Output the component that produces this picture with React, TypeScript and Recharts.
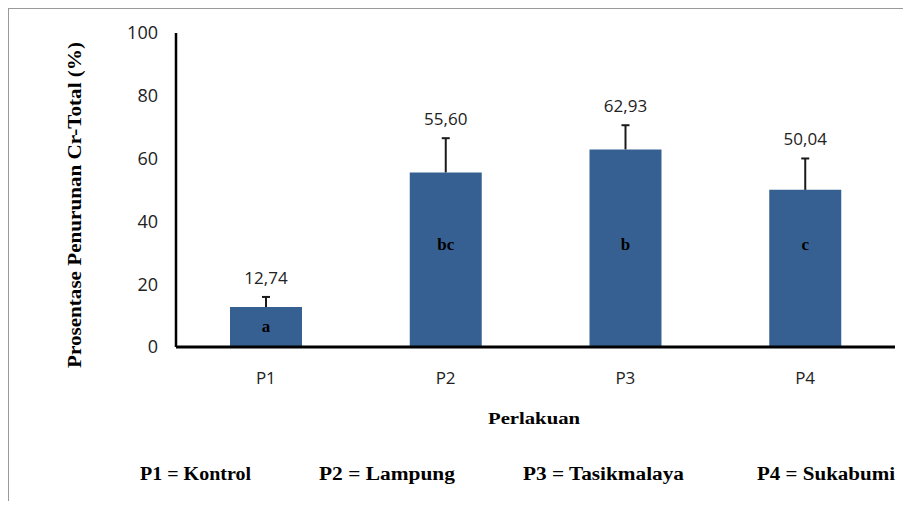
import React from "react";
import { BarChart, Bar, XAxis, YAxis, LabelList } from "recharts";

// perlakuan (treatment) names, means, standard error (upper side only) and notasi letters
const categories = ["P1", "P2", "P3", "P4"];
const reduction = [12.74, 55.6, 62.93, 50.04];
const errorUp = [3.2, 10.9, 7.7, 10.0];
const letters = ["a", "bc", "b", "c"];
const valueLabels = ["12,74", "55,60", "62,93", "50,04"];
const yTicks = [0, 20, 40, 60, 80, 100];
const legendItems = ["P1 = Kontrol", "P2 = Lampung", "P3 = Tasikmalaya", "P4 = Sukabumi"];

const data = categories.map((name, i) => ({
  name,
  value: reduction[i],
}));

const BAR_COLOR = "#376092";
const SANS = "'Open Sans', sans-serif";
const SERIF = "'Liberation Serif', 'Times New Roman', serif";

// error bar + value text on top of each bar
const TopLabel = (props: any) => {
  const { x, y, width, height, index } = props;
  const v = reduction[index];
  const pxPerUnit = height / v;
  const cx = x + width / 2;
  const errTop = y - errorUp[index] * pxPerUnit;
  return (
    <g>
      <line x1={cx} y1={y} x2={cx} y2={errTop} stroke="#1a1a1a" strokeWidth={2} />
      <line x1={cx - 4} y1={errTop} x2={cx + 4} y2={errTop} stroke="#1a1a1a" strokeWidth={2} />
      <text x={cx} y={errTop - 13} textAnchor="middle" fontFamily={SANS} fontSize={17} fill="#222">
        {valueLabels[index]}
      </text>
    </g>
  );
};

// notasi letter inside the bar: centred in short bars, otherwise at a fixed height
const LetterLabel = (props: any) => {
  const { x, y, width, height, index } = props;
  const v = reduction[index];
  const pxPerUnit = height / v;
  const bottom = y + height;
  const at = v < 25 ? v / 2 : 32.5;
  const cy = bottom - at * pxPerUnit;
  return (
    <text x={x + width / 2} y={cy + 5} textAnchor="middle" fontFamily={SERIF} fontWeight="bold" fontSize={17} fill="#000">
      {letters[index]}
    </text>
  );
};

export default function App() {
  return (
    <div style={{ position: "relative", width: 911, height: 509, margin: -8, background: "#fff", overflow: "hidden" }}>
      <div
        style={{
          position: "absolute",
          left: 7,
          top: 7,
          width: 904,
          height: 502,
          borderTop: "2px solid #9a9a9a",
          borderLeft: "2px solid #9a9a9a",
          boxSizing: "border-box",
        }}
      />
      <BarChart
        width={911}
        height={509}
        data={data}
        margin={{ top: 33, right: 16, bottom: 132, left: 1 }}
        style={{ position: "absolute", left: 0, top: 0 }}
      >
        <YAxis
          width={175}
          domain={[0, 100]}
          ticks={yTicks}
          interval={0}
          axisLine={{ stroke: "#000", strokeWidth: 2.5 }}
          tickLine={false}
          tickSize={0}
          tickMargin={18}
          tick={{ fill: "#222", fontSize: 18, fontFamily: SANS }}
        />
        <XAxis
          dataKey="name"
          height={30}
          axisLine={{ stroke: "#000", strokeWidth: 3 }}
          tickLine={false}
          tickSize={0}
          tickMargin={25}
          tick={{ fill: "#222", fontSize: 17, fontFamily: SANS }}
        />
        <Bar dataKey="value" fill={BAR_COLOR} barSize={72} isAnimationActive={false}>
          <LabelList dataKey="value" content={<TopLabel />} />
          <LabelList dataKey="value" content={<LetterLabel />} />
        </Bar>
      </BarChart>
      <svg width={911} height={509} style={{ position: "absolute", left: 0, top: 0, pointerEvents: "none" }}>
        <text
          transform="translate(81,205) rotate(-90)"
          textAnchor="middle"
          fontFamily={SERIF}
          fontWeight="bold"
          fontSize={18}
          textLength={326}
          lengthAdjust="spacingAndGlyphs"
          fill="#000"
        >
          Prosentase Penurunan Cr-Total (%)
        </text>
        <text x={488} y={424} fontFamily={SERIF} fontWeight="bold" fontSize={17} textLength={92} lengthAdjust="spacingAndGlyphs" fill="#000">
          Perlakuan
        </text>
        {legendItems.map((t, i) => {
          const xs = [140, 319, 523, 757];
          const ws = [111, 136, 161, 138];
          return (
            <text
              key={t}
              x={xs[i]}
              y={480}
              fontFamily={SERIF}
              fontWeight="bold"
              fontSize={18}
              textLength={ws[i]}
              lengthAdjust="spacingAndGlyphs"
              fill="#000"
            >
              {t}
            </text>
          );
        })}
      </svg>
    </div>
  );
}
